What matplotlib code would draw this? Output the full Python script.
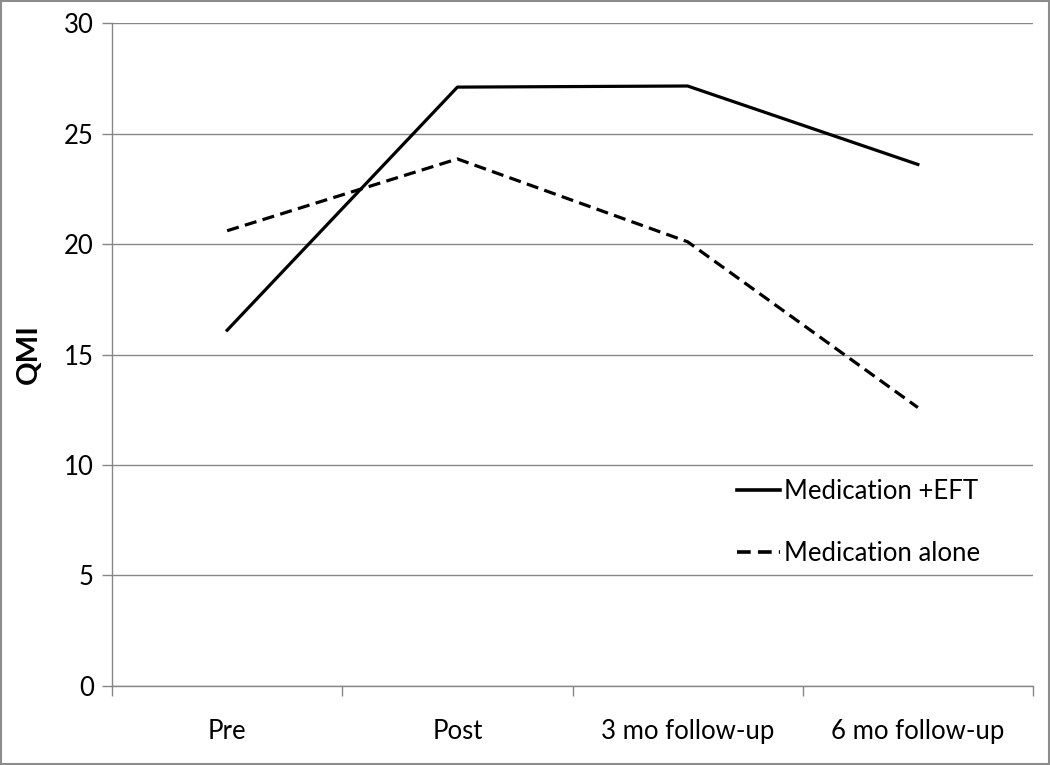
import matplotlib.pyplot as plt
from matplotlib.patches import Rectangle

plt.rcParams['font.family'] = ['Lato', 'DejaVu Sans']

categories = ['Pre', 'Post', '3 mo follow-up', '6 mo follow-up']
med_eft = [16.1, 27.1, 27.15, 23.6]
med_alone = [20.6, 23.85, 20.1, 12.6]
y_ticks = [0, 5, 10, 15, 20, 25, 30]

grid_col = '#868686'
fs = 18.5

fig = plt.figure(figsize=(10.5, 7.65), dpi=100)
ax = fig.add_axes([0.1067, 0.1033, 0.8771, 0.8666])

x = list(range(len(categories)))
ax.plot(x, med_eft, color='black', lw=2.3, label='Medication +EFT')
ax.plot(x, med_alone, color='black', lw=2.3, linestyle=(0, (3.8, 2)),
        label='Medication alone')

ax.set_xlim(-0.5, len(categories) - 0.5)
ax.set_ylim(0, 30)
ax.set_yticks(y_ticks)
ax.yaxis.grid(True, color=grid_col, lw=1)
ax.set_axisbelow(True)

ax.set_xticks(x)
ax.set_xticklabels(categories)
ax.set_xticks([i - 0.5 for i in range(len(categories) + 1)], minor=True)
ax.tick_params(axis='x', which='major', length=0, pad=24, labelsize=fs)
ax.tick_params(axis='x', which='minor', length=7, color=grid_col, width=1)
ax.tick_params(axis='y', length=7, color=grid_col, width=1, labelsize=fs, pad=6)

for side in ['top', 'right']:
    ax.spines[side].set_visible(False)
for side in ['left', 'bottom']:
    ax.spines[side].set_color(grid_col)
    ax.spines[side].set_linewidth(1)

ax.set_ylabel('QMI', fontsize=21, fontweight='bold', labelpad=16)

leg = ax.legend(loc='center left', bbox_to_anchor=(0.653, 0.247), frameon=False,
                fontsize=fs, labelspacing=1.45, handlelength=1.7, handletextpad=0.15)
for line in leg.get_lines():
    line.set_linewidth(2.6)

fig.patches.append(Rectangle((0.001, 0.001), 0.998, 0.998, transform=fig.transFigure,
                             fill=False, edgecolor='#8c8c8c', lw=1.5))

fig.savefig('out.png', dpi=100)
